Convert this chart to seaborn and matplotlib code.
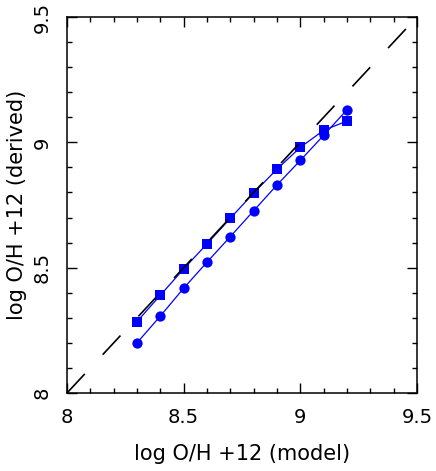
import numpy as np
import pandas as pd
import matplotlib
matplotlib.use("Agg")
import matplotlib.pyplot as plt
from matplotlib.ticker import MultipleLocator
import seaborn as sns

sns.set_style("ticks")
plt.rcParams["font.family"] = ["DejaVu Sans"]
plt.rcParams["lines.scale_dashes"] = False
plt.rcParams["text.color"] = "black"
plt.rcParams["axes.labelcolor"] = "black"

# model abundances (x) and derived abundances (y)
oh_model = [8.3, 8.4, 8.5, 8.6, 8.7, 8.8, 8.9, 9.0, 9.1, 9.2]
oh_squares = [8.285, 8.39, 8.495, 8.595, 8.697, 8.798, 8.893, 8.98, 9.048, 9.085]
oh_circles = [8.20, 8.307, 8.418, 8.522, 8.624, 8.727, 8.830, 8.928, 9.028, 9.13]
one_to_one = [8.0, 9.5]

sq = pd.DataFrame({"model": oh_model, "derived": oh_squares})
ci = pd.DataFrame({"model": oh_model, "derived": oh_circles})
diag = pd.DataFrame({"model": one_to_one, "derived": one_to_one})

fig = plt.figure(figsize=(4.36, 4.71), dpi=100)
ax = fig.add_axes([67 / 436, 1 - 393 / 471, 350 / 436, 376 / 471])

sns.lineplot(data=sq, x="model", y="derived", ax=ax, color="#0000ff",
             marker="s", markersize=6.5, markeredgewidth=0, linewidth=0.9,
             zorder=2)
sns.lineplot(data=ci, x="model", y="derived", ax=ax, color="#0000ff",
             marker="o", markersize=7.4, markeredgewidth=0, linewidth=0.9,
             zorder=2)
sns.lineplot(data=diag, x="model", y="derived", ax=ax, color="black",
             linewidth=1.2, zorder=3, dashes=False)
ax.lines[-1].set_dashes((18.8, 18.9))

ax.set_xlim(8, 9.5)
ax.set_ylim(8, 9.5)
ax.xaxis.set_minor_locator(MultipleLocator(0.1))
ax.yaxis.set_minor_locator(MultipleLocator(0.1))
ax.set_xticks([8, 8.5, 9, 9.5], ["8", "8.5", "9", "9.5"])
ax.set_yticks([8, 8.5, 9, 9.5], ["8", "8.5", "9", "9.5"])

ax.tick_params(which="both", direction="in", top=True, right=True,
               color="black", labelsize=14, labelcolor="black")
ax.tick_params(which="major", length=7.2, width=1.0, pad=11)
ax.tick_params(which="minor", length=3.6, width=1.0)
for lbl in ax.get_yticklabels():
    lbl.set_rotation(90)
    lbl.set_va("center")

for s in ax.spines.values():
    s.set_linewidth(1.1)
    s.set_color("black")

ax.set_xlabel("log O/H +12 (model)", fontsize=15)
ax.set_ylabel("log O/H +12 (derived)", fontsize=15)
ax.xaxis.set_label_coords(0.5, -0.135)
ax.yaxis.set_label_coords(-0.115, 0.5)

fig.savefig("out.png", dpi=100)
